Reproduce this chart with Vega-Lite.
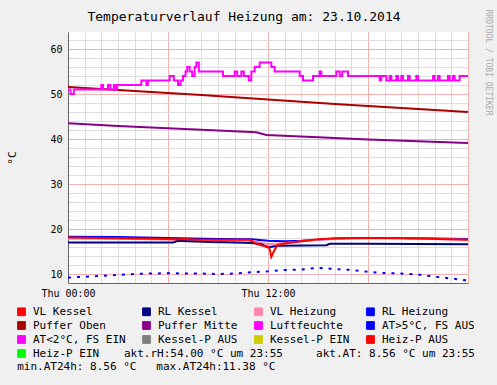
{
  "$schema": "https://vega.github.io/schema/vega-lite/v6.json",
  "width": 400,
  "height": 251,
  "autosize": "none",
  "padding": {"left": 68, "top": 32, "right": 29, "bottom": 102},
  "background": "#f0f0f0",
  "title": {"text": "Temperaturverlauf Heizung am: 23.10.2014", "font": "DejaVu Sans Mono", "fontSize": 13, "fontWeight": "normal", "color": "#000000", "anchor": "middle", "frame": "group", "dx": -24, "offset": -15},
  "config": {
    "view": {"stroke": null, "fill": "#ffffff"},
    "font": "DejaVu Sans Mono",
    "axis": {"labelFont": "DejaVu Sans Mono", "labelFontSize": 10, "labelColor": "#000000", "titleFont": "DejaVu Sans Mono", "titleFontWeight": "normal", "titleColor": "#000000", "domainColor": "#666666", "ticks": false}
  },
  "data": {"values": [
    {"series": "RL Heizung", "hour": 0, "value": 18.3},
    {"series": "RL Heizung", "hour": 3, "value": 18.2},
    {"series": "RL Heizung", "hour": 6, "value": 18.0},
    {"series": "RL Heizung", "hour": 9, "value": 17.8},
    {"series": "RL Heizung", "hour": 11, "value": 17.7},
    {"series": "RL Heizung", "hour": 12, "value": 17.4},
    {"series": "RL Heizung", "hour": 13, "value": 17.3},
    {"series": "RL Heizung", "hour": 14, "value": 17.4},
    {"series": "RL Heizung", "hour": 15, "value": 17.6},
    {"series": "RL Heizung", "hour": 16, "value": 17.9},
    {"series": "RL Heizung", "hour": 18, "value": 18.0},
    {"series": "RL Heizung", "hour": 20, "value": 18.0},
    {"series": "RL Heizung", "hour": 24, "value": 17.8},
    {"series": "VL Heizung", "hour": 0, "value": 17.9},
    {"series": "VL Heizung", "hour": 4, "value": 17.8},
    {"series": "VL Heizung", "hour": 8, "value": 17.5},
    {"series": "VL Heizung", "hour": 11, "value": 17.4},
    {"series": "VL Heizung", "hour": 12, "value": 16.6},
    {"series": "VL Heizung", "hour": 13, "value": 16.9},
    {"series": "VL Heizung", "hour": 15, "value": 17.6},
    {"series": "VL Heizung", "hour": 17, "value": 17.9},
    {"series": "VL Heizung", "hour": 20, "value": 17.9},
    {"series": "VL Heizung", "hour": 24, "value": 17.6},
    {"series": "RL Kessel", "hour": 0, "value": 17.0},
    {"series": "RL Kessel", "hour": 3, "value": 17.0},
    {"series": "RL Kessel", "hour": 6.3, "value": 17.0},
    {"series": "RL Kessel", "hour": 6.6, "value": 17.4},
    {"series": "RL Kessel", "hour": 7.2, "value": 17.3},
    {"series": "RL Kessel", "hour": 8.5, "value": 17.1},
    {"series": "RL Kessel", "hour": 10, "value": 17.0},
    {"series": "RL Kessel", "hour": 11, "value": 16.9},
    {"series": "RL Kessel", "hour": 11.6, "value": 16.6},
    {"series": "RL Kessel", "hour": 12.0, "value": 15.9},
    {"series": "RL Kessel", "hour": 12.3, "value": 16.1},
    {"series": "RL Kessel", "hour": 12.6, "value": 16.3},
    {"series": "RL Kessel", "hour": 15.5, "value": 16.4},
    {"series": "RL Kessel", "hour": 15.7, "value": 16.7},
    {"series": "RL Kessel", "hour": 18, "value": 16.7},
    {"series": "RL Kessel", "hour": 24, "value": 16.6},
    {"series": "VL Kessel", "hour": 0, "value": 18.1},
    {"series": "VL Kessel", "hour": 2, "value": 18.0},
    {"series": "VL Kessel", "hour": 4, "value": 17.9},
    {"series": "VL Kessel", "hour": 6, "value": 17.8},
    {"series": "VL Kessel", "hour": 6.5, "value": 17.7},
    {"series": "VL Kessel", "hour": 7, "value": 17.8},
    {"series": "VL Kessel", "hour": 8, "value": 17.6},
    {"series": "VL Kessel", "hour": 9, "value": 17.6},
    {"series": "VL Kessel", "hour": 10, "value": 17.6},
    {"series": "VL Kessel", "hour": 10.9, "value": 17.6},
    {"series": "VL Kessel", "hour": 11.3, "value": 16.7},
    {"series": "VL Kessel", "hour": 11.7, "value": 16.3},
    {"series": "VL Kessel", "hour": 12.0, "value": 16.1},
    {"series": "VL Kessel", "hour": 12.08, "value": 15.8},
    {"series": "VL Kessel", "hour": 12.2, "value": 13.8},
    {"series": "VL Kessel", "hour": 12.35, "value": 15.0},
    {"series": "VL Kessel", "hour": 12.55, "value": 16.4},
    {"series": "VL Kessel", "hour": 13, "value": 16.8},
    {"series": "VL Kessel", "hour": 14, "value": 17.3},
    {"series": "VL Kessel", "hour": 15, "value": 17.7},
    {"series": "VL Kessel", "hour": 16, "value": 17.9},
    {"series": "VL Kessel", "hour": 17, "value": 18.0},
    {"series": "VL Kessel", "hour": 19, "value": 18.0},
    {"series": "VL Kessel", "hour": 21, "value": 17.9},
    {"series": "VL Kessel", "hour": 24, "value": 17.6},
    {"series": "Puffer Oben", "hour": 0, "value": 51.6},
    {"series": "Puffer Oben", "hour": 4, "value": 50.7},
    {"series": "Puffer Oben", "hour": 8, "value": 49.8},
    {"series": "Puffer Oben", "hour": 12, "value": 48.8},
    {"series": "Puffer Oben", "hour": 16, "value": 47.8},
    {"series": "Puffer Oben", "hour": 20, "value": 46.9},
    {"series": "Puffer Oben", "hour": 24, "value": 46.0},
    {"series": "Puffer Mitte", "hour": 0, "value": 43.5},
    {"series": "Puffer Mitte", "hour": 3, "value": 42.9},
    {"series": "Puffer Mitte", "hour": 6, "value": 42.4},
    {"series": "Puffer Mitte", "hour": 9, "value": 41.9},
    {"series": "Puffer Mitte", "hour": 11.3, "value": 41.5},
    {"series": "Puffer Mitte", "hour": 11.9, "value": 40.9},
    {"series": "Puffer Mitte", "hour": 15, "value": 40.4},
    {"series": "Puffer Mitte", "hour": 18, "value": 39.9},
    {"series": "Puffer Mitte", "hour": 21, "value": 39.5},
    {"series": "Puffer Mitte", "hour": 24, "value": 39.1},
    {"series": "Luftfeuchte", "hour": 0, "value": 51},
    {"series": "Luftfeuchte", "hour": 0.15, "value": 50},
    {"series": "Luftfeuchte", "hour": 0.35, "value": 51},
    {"series": "Luftfeuchte", "hour": 2.0, "value": 52},
    {"series": "Luftfeuchte", "hour": 2.1, "value": 51},
    {"series": "Luftfeuchte", "hour": 2.4, "value": 52},
    {"series": "Luftfeuchte", "hour": 2.55, "value": 51},
    {"series": "Luftfeuchte", "hour": 2.75, "value": 52},
    {"series": "Luftfeuchte", "hour": 2.85, "value": 51},
    {"series": "Luftfeuchte", "hour": 2.95, "value": 52},
    {"series": "Luftfeuchte", "hour": 4.4, "value": 53},
    {"series": "Luftfeuchte", "hour": 4.7, "value": 52},
    {"series": "Luftfeuchte", "hour": 4.8, "value": 53},
    {"series": "Luftfeuchte", "hour": 6.1, "value": 54},
    {"series": "Luftfeuchte", "hour": 6.35, "value": 53},
    {"series": "Luftfeuchte", "hour": 6.6, "value": 52},
    {"series": "Luftfeuchte", "hour": 6.75, "value": 53},
    {"series": "Luftfeuchte", "hour": 6.9, "value": 54},
    {"series": "Luftfeuchte", "hour": 7.05, "value": 55},
    {"series": "Luftfeuchte", "hour": 7.15, "value": 56},
    {"series": "Luftfeuchte", "hour": 7.3, "value": 55},
    {"series": "Luftfeuchte", "hour": 7.45, "value": 54},
    {"series": "Luftfeuchte", "hour": 7.6, "value": 56},
    {"series": "Luftfeuchte", "hour": 7.7, "value": 57},
    {"series": "Luftfeuchte", "hour": 7.85, "value": 55},
    {"series": "Luftfeuchte", "hour": 9.3, "value": 54},
    {"series": "Luftfeuchte", "hour": 10.0, "value": 55},
    {"series": "Luftfeuchte", "hour": 10.15, "value": 54},
    {"series": "Luftfeuchte", "hour": 10.4, "value": 55},
    {"series": "Luftfeuchte", "hour": 10.55, "value": 54},
    {"series": "Luftfeuchte", "hour": 10.85, "value": 53},
    {"series": "Luftfeuchte", "hour": 11.0, "value": 55},
    {"series": "Luftfeuchte", "hour": 11.2, "value": 56},
    {"series": "Luftfeuchte", "hour": 11.5, "value": 57},
    {"series": "Luftfeuchte", "hour": 12.2, "value": 56},
    {"series": "Luftfeuchte", "hour": 12.4, "value": 55},
    {"series": "Luftfeuchte", "hour": 13.9, "value": 54},
    {"series": "Luftfeuchte", "hour": 14.1, "value": 53},
    {"series": "Luftfeuchte", "hour": 14.7, "value": 54},
    {"series": "Luftfeuchte", "hour": 15.1, "value": 55},
    {"series": "Luftfeuchte", "hour": 15.2, "value": 54},
    {"series": "Luftfeuchte", "hour": 16.1, "value": 55},
    {"series": "Luftfeuchte", "hour": 16.3, "value": 54},
    {"series": "Luftfeuchte", "hour": 16.45, "value": 55},
    {"series": "Luftfeuchte", "hour": 16.8, "value": 54},
    {"series": "Luftfeuchte", "hour": 18.7, "value": 53},
    {"series": "Luftfeuchte", "hour": 18.8, "value": 54},
    {"series": "Luftfeuchte", "hour": 19.1, "value": 53},
    {"series": "Luftfeuchte", "hour": 19.3, "value": 54},
    {"series": "Luftfeuchte", "hour": 19.4, "value": 53},
    {"series": "Luftfeuchte", "hour": 19.7, "value": 54},
    {"series": "Luftfeuchte", "hour": 19.8, "value": 53},
    {"series": "Luftfeuchte", "hour": 20.0, "value": 54},
    {"series": "Luftfeuchte", "hour": 20.1, "value": 53},
    {"series": "Luftfeuchte", "hour": 20.4, "value": 54},
    {"series": "Luftfeuchte", "hour": 20.5, "value": 53},
    {"series": "Luftfeuchte", "hour": 20.9, "value": 54},
    {"series": "Luftfeuchte", "hour": 21.0, "value": 53},
    {"series": "Luftfeuchte", "hour": 21.9, "value": 54},
    {"series": "Luftfeuchte", "hour": 22.0, "value": 53},
    {"series": "Luftfeuchte", "hour": 22.2, "value": 54},
    {"series": "Luftfeuchte", "hour": 22.3, "value": 53},
    {"series": "Luftfeuchte", "hour": 22.8, "value": 54},
    {"series": "Luftfeuchte", "hour": 22.9, "value": 53},
    {"series": "Luftfeuchte", "hour": 23.1, "value": 54},
    {"series": "Luftfeuchte", "hour": 23.2, "value": 53},
    {"series": "Luftfeuchte", "hour": 23.5, "value": 54},
    {"series": "Luftfeuchte", "hour": 24.0, "value": 54},
    {"series": "AT>5°C, FS AUS", "hour": 0, "value": 9.2},
    {"series": "AT>5°C, FS AUS", "hour": 1, "value": 9.4},
    {"series": "AT>5°C, FS AUS", "hour": 2, "value": 9.6},
    {"series": "AT>5°C, FS AUS", "hour": 3, "value": 9.8},
    {"series": "AT>5°C, FS AUS", "hour": 4, "value": 10.0},
    {"series": "AT>5°C, FS AUS", "hour": 5, "value": 10.1},
    {"series": "AT>5°C, FS AUS", "hour": 6, "value": 10.2},
    {"series": "AT>5°C, FS AUS", "hour": 7, "value": 10.1},
    {"series": "AT>5°C, FS AUS", "hour": 8, "value": 10.1},
    {"series": "AT>5°C, FS AUS", "hour": 9, "value": 10.0},
    {"series": "AT>5°C, FS AUS", "hour": 10, "value": 10.1},
    {"series": "AT>5°C, FS AUS", "hour": 11, "value": 10.4},
    {"series": "AT>5°C, FS AUS", "hour": 12, "value": 10.6},
    {"series": "AT>5°C, FS AUS", "hour": 13, "value": 10.9},
    {"series": "AT>5°C, FS AUS", "hour": 14, "value": 11.0},
    {"series": "AT>5°C, FS AUS", "hour": 15, "value": 11.38},
    {"series": "AT>5°C, FS AUS", "hour": 16, "value": 11.1},
    {"series": "AT>5°C, FS AUS", "hour": 17, "value": 10.9},
    {"series": "AT>5°C, FS AUS", "hour": 18, "value": 10.5},
    {"series": "AT>5°C, FS AUS", "hour": 19, "value": 10.2},
    {"series": "AT>5°C, FS AUS", "hour": 20, "value": 10.1},
    {"series": "AT>5°C, FS AUS", "hour": 21, "value": 9.9},
    {"series": "AT>5°C, FS AUS", "hour": 22, "value": 9.4},
    {"series": "AT>5°C, FS AUS", "hour": 23, "value": 9.0},
    {"series": "AT>5°C, FS AUS", "hour": 24, "value": 8.56}
  ]},
  "encoding": {
    "x": {"field": "hour", "type": "quantitative",
      "scale": {"domain": [0, 24], "nice": false, "zero": false},
      "axis": {"values": [0,1,2,3,4,5,6,7,8,9,10,11,12,13,14,15,16,17,18,19,20,21,22,23,24],
        "labelExpr": "datum.value == 0 ? 'Thu 00:00' : (datum.value == 12 ? 'Thu 12:00' : '')",
        "title": "min.AT24h: 8.56 °C\u00a0\u00a0\u00a0max.AT24h:11.38 °C",
        "titleFontSize": 11, "titleX": -51.3, "titleY": 83.7, "titleAlign": "left", "titleBaseline": "middle", "titleAnchor": "start",
        "grid": true,
        "gridColor": {"condition": {"test": "datum.value % 6 == 0", "value": "#f4b0b0"}, "value": "#dddddd"},
        "labelPadding": 5, "labelFlush": false, "labelOverlap": false, "labelBound": false}},
    "color": {"field": "series", "type": "nominal",
      "scale": {"domain": ["VL Kessel", "RL Kessel", "VL Heizung", "RL Heizung", "Puffer Oben", "Puffer Mitte", "Luftfeuchte", "AT>5°C, FS AUS", "AT<2°C, FS EIN", "Kessel-P AUS", "Kessel-P EIN", "Heiz-P AUS", "Heiz-P EIN"],
        "range": ["#ff0000", "#000080", "#ff88aa", "#0000ff", "#aa0000", "#880088", "#ff00ff", "#0000ff", "#ff00ff", "#808080", "#cccc00", "#ff0000", "#00ff00"]},
      "legend": {"orient": "none", "direction": "horizontal", "legendX": -52, "legendY": 274, "columns": 4, "gridAlign": "each", "columnPadding": 14, "rowPadding": 1,
        "symbolType": "square", "symbolSize": 60, "symbolStrokeWidth": 1,
        "labelFont": "DejaVu Sans Mono", "labelFontSize": 11, "labelColor": "#000000", "labelOffset": 6, "labelLimit": 600,
        "title": "akt.rH:54.00 °C um 23:55\u00a0\u00a0\u00a0\u00a0\u00a0akt.AT: 8.56 °C um 23:55",
        "titleOrient": "bottom", "titleFont": "DejaVu Sans Mono", "titleFontSize": 11, "titleFontWeight": "normal", "titleColor": "#000000", "titleAnchor": "end", "titleAlign": "right", "titlePadding": -11.5, "titleLimit": 600, "padding": 0,
        "encode": {"symbols": {"update": {"fill": {"scale": "color", "field": "value"}, "stroke": {"value": "#000000"}, "strokeWidth": {"value": 1}, "opacity": {"value": 1}}}}}}
  },
  "layer": [
    {
      "transform": [{"filter": "datum.series != 'Luftfeuchte' && datum.series != 'AT>5°C, FS AUS'"}],
      "mark": {"type": "line", "strokeWidth": 2},
      "encoding": {
        "y": {"field": "value", "type": "quantitative", "scale": {"domain": [8, 63.8], "nice": false, "zero": false},
          "axis": {"values": [10,12,14,16,18,20,22,24,26,28,30,32,34,36,38,40,42,44,46,48,50,52,54,56,58,60,62],
            "labelExpr": "datum.value % 10 == 0 ? datum.label : ''",
            "title": "°C", "titleFontSize": 11, "titleX": -51,
            "grid": true,
            "gridColor": {"condition": {"test": "datum.value % 10 == 0", "value": "#f4b0b0"}, "value": "#dddddd"},
            "labelPadding": 6, "labelOverlap": false}}
      }
    },
    {
      "transform": [{"filter": "datum.series == 'Luftfeuchte'"}],
      "mark": {"type": "line", "strokeWidth": 2, "interpolate": "step-after"},
      "encoding": {
        "y": {"field": "value", "type": "quantitative", "scale": {"domain": [8, 63.8], "nice": false, "zero": false}, "axis": null}
      }
    },
    {
      "transform": [{"filter": "datum.series == 'AT>5°C, FS AUS'"}],
      "mark": {"type": "line", "strokeWidth": 2, "strokeDash": [3, 6]},
      "encoding": {
        "y": {"field": "value", "type": "quantitative", "scale": {"domain": [8, 63.8], "nice": false, "zero": false},
          "axis": {"orient": "right", "title": "RRDTOOL / TOBI OETIKER", "labels": false, "ticks": false, "domain": false, "grid": false,
            "titleAngle": 90, "titleColor": "#aaaaaa", "titleFontSize": 8, "titleX": 19, "titleY": 30, "titleAlign": "center", "titleBaseline": "middle"}}
      }
    }
  ],
  "resolve": {"axis": {"y": "independent"}}
}
